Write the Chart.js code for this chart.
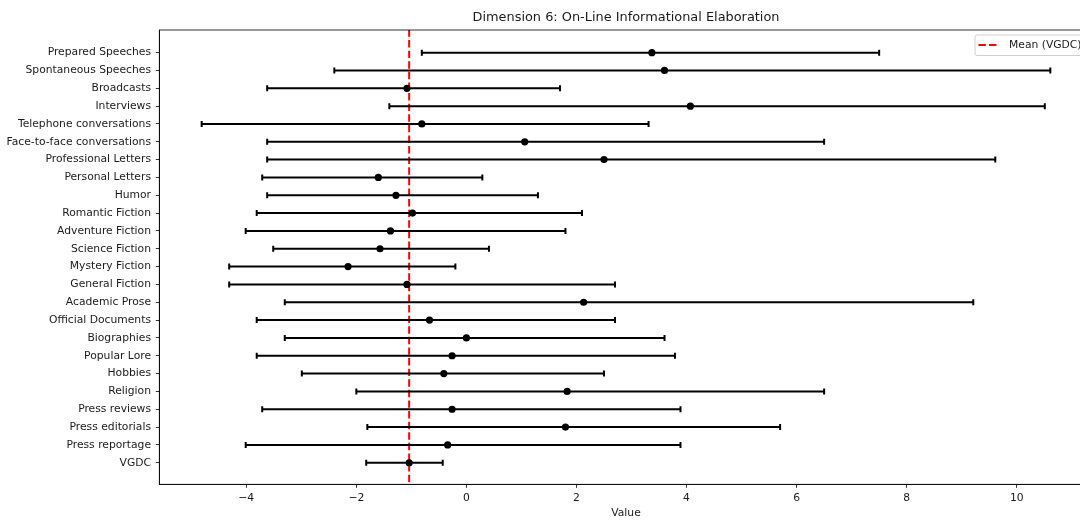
<!DOCTYPE html>
<html>
<head>
<meta charset="utf-8">
<script src="https://cdn.jsdelivr.net/npm/chart.js@4.4.1/dist/chart.umd.min.js"></script>
<style>
  html, body { margin: 0; padding: 0; background: #fff; overflow: hidden; }
  #wrap { width: 1100px; height: 520px; }
</style>
</head>
<body>
<div id="wrap"><canvas id="c" width="1100" height="520"></canvas></div>
<script>
const chartTitle = "Dimension 6: On-Line Informational Elaboration";
const xAxisTitle = "Value";
const legendLabel = "Mean (VGDC)";

const categories = [
  "Prepared Speeches", "Spontaneous Speeches", "Broadcasts", "Interviews",
  "Telephone conversations", "Face-to-face conversations", "Professional Letters",
  "Personal Letters", "Humor", "Romantic Fiction", "Adventure Fiction",
  "Science Fiction", "Mystery Fiction", "General Fiction", "Academic Prose",
  "Official Documents", "Biographies", "Popular Lore", "Hobbies", "Religion",
  "Press reviews", "Press editorials", "Press reportage", "VGDC"
];
const means = [3.37, 3.60, -1.08, 4.07, -0.81, 1.06, 2.50, -1.60, -1.28, -0.98, -1.38, -1.57,
               -2.15, -1.08, 2.13, -0.67, 0.00, -0.26, -0.41, 1.83, -0.26, 1.80, -0.34, -1.04];
const lows  = [-0.81, -2.40, -3.62, -1.40, -4.81, -3.62, -3.62, -3.71, -3.62, -3.81, -4.01, -3.51,
               -4.31, -4.31, -3.30, -3.81, -3.30, -3.81, -2.99, -2.00, -3.71, -1.80, -4.01, -1.82];
const highs = [7.50, 10.61, 1.70, 10.51, 3.31, 6.50, 9.61, 0.29, 1.30, 2.10, 1.80, 0.41,
               -0.20, 2.70, 9.21, 2.70, 3.60, 3.79, 2.50, 6.50, 3.89, 5.70, 3.89, -0.43];
const vgdcMean = -1.04;
const xTicks = [-4, -2, 0, 2, 4, 6, 8, 10];

const FONT = "'DejaVu Sans', sans-serif";
const TEXT = '#1a1a1a';

const errorBars = {
  id: 'errorBars',
  beforeDatasetDraw(chart, args) {
    if (args.index !== 1) return;
    const ctx = chart.ctx, xs = chart.scales.x, ys = chart.scales.y;
    ctx.save();
    ctx.strokeStyle = '#000';
    ctx.lineWidth = 2;
    ctx.lineCap = 'butt';
    categories.forEach((c, i) => {
      const y = ys.getPixelForValue(i);
      const x1 = xs.getPixelForValue(lows[i]);
      const x2 = xs.getPixelForValue(highs[i]);
      ctx.beginPath();
      ctx.moveTo(x1, y); ctx.lineTo(x2, y);
      ctx.moveTo(x1, y - 3); ctx.lineTo(x1, y + 3);
      ctx.moveTo(x2, y - 3); ctx.lineTo(x2, y + 3);
      ctx.stroke();
    });
    ctx.restore();
  }
};

const decor = {
  id: 'decor',
  afterDraw(chart) {
    const ctx = chart.ctx, a = chart.chartArea;
    ctx.save();
    ctx.strokeStyle = '#000';
    ctx.lineWidth = 0.8;
    ctx.strokeRect(a.left, a.top, a.right - a.left, a.bottom - a.top);
    ctx.fillStyle = TEXT;
    ctx.font = "12.9px " + FONT;
    ctx.textAlign = 'center';
    ctx.textBaseline = 'middle';
    ctx.fillText(chartTitle, (a.left + a.right) / 2, 17.5);
    const bw = 112.7, bh = 20.5;
    const bx = a.right - 5 - bw, by = a.top + 5;
    ctx.beginPath();
    ctx.roundRect(bx, by, bw, bh, 2);
    ctx.fillStyle = 'rgba(255,255,255,0.8)';
    ctx.fill();
    ctx.strokeStyle = '#d0d0d0';
    ctx.lineWidth = 1;
    ctx.stroke();
    ctx.beginPath();
    ctx.strokeStyle = '#ff0000';
    ctx.lineWidth = 2;
    ctx.setLineDash([7.4, 3.2]);
    ctx.moveTo(bx + 3.5, by + 10);
    ctx.lineTo(bx + 24.5, by + 10);
    ctx.stroke();
    ctx.setLineDash([]);
    ctx.fillStyle = TEXT;
    ctx.font = "10.75px " + FONT;
    ctx.textAlign = 'left';
    ctx.fillText(legendLabel, bx + 34, by + 10.5);
    ctx.restore();
  }
};

new Chart(document.getElementById('c'), {
  type: 'scatter',
  data: {
    datasets: [
      {
        type: 'line',
        label: legendLabel,
        data: [{x: vgdcMean, y: -1.3}, {x: vgdcMean, y: 24.3}],
        borderColor: '#ff0000',
        borderWidth: 2,
        borderDash: [7.4, 3.2],
        pointRadius: 0,
        fill: false,
        order: 2
      },
      {
        label: 'Dimension score',
        data: means.map((m, i) => ({x: m, y: i})),
        backgroundColor: '#000',
        borderColor: '#000',
        borderWidth: 0,
        pointRadius: 3.6,
        order: 1
      }
    ]
  },
  options: {
    responsive: false,
    animation: false,
    events: [],
    layout: { padding: { top: 30, right: 7.3, left: 0, bottom: 0 } },
    plugins: { legend: { display: false }, tooltip: { enabled: false }, title: { display: false } },
    scales: {
      x: {
        type: 'linear',
        min: -5.58, max: 11.38,
        afterBuildTicks: (s) => { s.ticks = xTicks.map(v => ({value: v})); },
        afterFit: (s) => { s.height = 35.7; },
        grid: { display: true, drawOnChartArea: false, drawTicks: true, tickLength: 3.5, tickColor: '#000', tickWidth: 0.8 },
        border: { display: true, color: '#000', width: 0.8 },
        ticks: {
          color: TEXT, font: { family: FONT, size: 10.75 }, padding: 4, autoSkip: false, maxRotation: 0,
          callback: (v) => String(v).replace('-', '\u2212')
        },
        title: { display: true, text: xAxisTitle, color: TEXT, font: { family: FONT, size: 10.75 }, padding: { top: 0, bottom: 0 } }
      },
      y: {
        type: 'linear',
        reverse: true,
        min: -1.27, max: 24.21,
        afterBuildTicks: (s) => { s.ticks = categories.map((c, i) => ({value: i})); },
        afterFit: (s) => { s.width = 159.3; },
        grid: { display: true, drawOnChartArea: false, drawTicks: true, tickLength: 3.5, tickColor: '#000', tickWidth: 0.8 },
        border: { display: true, color: '#000', width: 0.8 },
        ticks: {
          color: TEXT, font: { family: FONT, size: 10.75 }, padding: 4.8, autoSkip: false,
          callback: (v) => categories[v] !== undefined ? categories[v] : ''
        }
      }
    }
  },
  plugins: [errorBars, decor]
});
</script>
</body>
</html>
